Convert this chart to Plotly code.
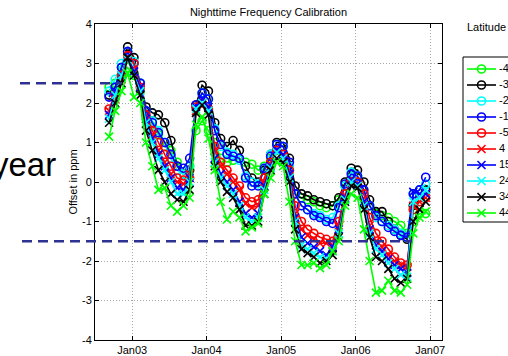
import plotly.graph_objects as go

# ---------------- data ----------------
dates = [
    "2002-09-10", "2002-10-10", "2002-11-10", "2002-12-10",
    "2003-01-10", "2003-02-10", "2003-03-10", "2003-04-10", "2003-05-10", "2003-06-10",
    "2003-07-10", "2003-08-10", "2003-09-10", "2003-10-10", "2003-11-10", "2003-12-10",
    "2004-01-10", "2004-02-10", "2004-03-10", "2004-04-10", "2004-05-10", "2004-06-10",
    "2004-07-10", "2004-08-10", "2004-09-10", "2004-10-10", "2004-11-10", "2004-12-10",
    "2005-01-10", "2005-02-10", "2005-03-10", "2005-04-10", "2005-05-10", "2005-06-10",
    "2005-07-10", "2005-08-10", "2005-09-10", "2005-10-10", "2005-11-10", "2005-12-10",
    "2006-01-10", "2006-02-10", "2006-03-10", "2006-04-10", "2006-05-10", "2006-06-10",
    "2006-07-10", "2006-08-10", "2006-09-10", "2006-10-10", "2006-11-10", "2006-12-10",
]

latitudes = ["-45", "-35", "-25", "-15", "-5", "4", "15", "24", "34", "44"]

lat_m45 = [2.4, 2.5, 2.7, 2.9, 2.7,
           2.3, 1.6, 1.4, 1.2, 0.9, 0.8, 0.5, 0.2, 0.4,
           1.3, 1.55, 1.3,
           1.0, 0.6, 0.5, 0.55, 0.6, 0.5, 0.45, 0.3, 0.4, 0.6,
           0.8, 0.7, 0.3, -0.3,
           -0.4, -0.45, -0.5, -0.6, -0.65, -0.6, -0.45, -0.1,
           0.0, 0.0, -0.3, -0.6,
           -0.8, -0.85, -0.9, -1.0, -1.1, -1.3,
           -1.0, -0.8, -0.8]
lat_m35 = [2.2, 2.4, 2.9, 3.42, 3.15,
           2.5, 1.9, 1.75, 1.7, 1.5, 1.05, 0.4, 0.2, 0.3,
           1.95, 2.45, 2.3,
           1.5, 1.1, 0.9, 1.05, 0.8, 0.4, 0.1, 0.0, 0.3, 0.7,
           1.0, 1.0, 0.6, -0.1,
           -0.3, -0.35, -0.45, -0.5, -0.55, -0.6, -0.4, 0.0,
           0.35, 0.3, 0.0, -0.45,
           -0.75, -0.75, -1.0, -1.2, -1.35, -1.45,
           -0.6, -0.4, -0.2]
lat_m25 = [2.3, 2.6, 3.0, 3.3, 3.05,
           2.5, 1.8, 1.55, 1.3, 1.0, 0.6, 0.3, 0.2, 0.4,
           1.9, 2.25, 2.1,
           1.35, 0.9, 0.75, 0.7, 0.55, 0.15, 0.0, -0.05, 0.35, 0.7,
           0.95, 0.9, 0.4, -0.3,
           -0.6, -0.7, -0.8, -0.85, -0.95, -0.9, -0.6, -0.1,
           0.25, 0.15, -0.3, -0.6,
           -0.9, -1.0, -1.1, -1.2, -1.3, -1.4,
           -0.3, -0.2, -0.05]
lat_m15 = [2.15, 2.4, 2.9, 3.3, 3.0,
           2.5, 1.8, 1.5, 1.25, 1.0, 0.7, 0.4, 0.35, 0.6,
           1.95, 2.25, 2.1,
           1.3, 0.95, 0.7, 0.65, 0.6, 0.1, -0.1, -0.1, 0.35, 0.65,
           0.95, 0.9, 0.5, -0.3,
           -0.6, -0.7, -0.85, -0.9, -1.0, -1.05, -0.65, -0.05,
           0.2, 0.15, -0.2, -0.6,
           -0.85, -1.0, -1.15, -1.25, -1.35, -1.4,
           -0.3, -0.2, 0.12]
lat_m5 = [1.85, 2.2, 2.7, 3.2, 3.0,
          2.4, 1.7, 1.3, 1.0, 0.7, 0.4, 0.1, 0.05, 0.1,
          1.9, 2.0, 1.85,
          0.9, 0.5, 0.3, 0.1, -0.1, -0.4, -0.5, -0.45, 0.1, 0.5,
          0.8, 0.7, 0.3, -0.6,
          -1.0, -1.2, -1.3, -1.4, -1.45, -1.5, -1.0, -0.3,
          0.0, 0.0, -0.3, -0.9,
          -1.3, -1.5, -1.7, -1.9, -2.05, -2.1,
          -0.7, -0.5, -0.4]
lat_p4 = [1.8, 2.1, 2.6, 3.1, 2.8,
          2.4, 1.6, 1.2, 0.8, 0.5, 0.2, 0.0, -0.05, 0.2,
          1.8, 1.95, 1.8,
          0.8, 0.4, 0.2, 0.0, -0.2, -0.55, -0.65, -0.6, 0.0, 0.45,
          0.75, 0.65, 0.2, -0.8,
          -1.2, -1.35, -1.45, -1.55, -1.55, -1.6, -1.1, -0.35,
          -0.05, -0.05, -0.5, -1.1,
          -1.5, -1.65, -1.85, -2.0, -2.1, -2.15,
          -0.6, -0.5, -0.4]
lat_p15 = [1.7, 2.3, 2.7, 3.15, 2.8,
           2.4, 1.6, 1.1, 0.7, 0.4, 0.1, -0.15, -0.2, 0.1,
           1.9, 2.1, 1.9,
           0.6, 0.2, 0.0, -0.2, -0.5, -0.8, -0.9, -0.8, -0.1, 0.4,
           0.8, 0.7, 0.2, -0.9,
           -1.4, -1.55, -1.65, -1.75, -1.85, -1.65, -1.2, -0.4,
           0.05, -0.05, -0.5, -1.2,
           -1.6, -1.75, -1.95, -2.1, -2.2, -2.3,
           -0.25, -0.3, -0.3]
lat_p24 = [1.6, 2.2, 2.7, 3.1, 2.7,
           2.3, 1.5, 1.0, 0.6, 0.3, 0.0, -0.3, -0.3, 0.0,
           1.85, 2.0, 1.8,
           0.5, 0.1, -0.1, -0.3, -0.6, -0.9, -1.0, -0.9, -0.2, 0.35,
           0.75, 0.6, 0.1, -1.0,
           -1.6, -1.7, -1.8, -1.9, -1.95, -1.75, -1.3, -0.45,
           0.0, -0.1, -0.6, -1.3,
           -1.7, -1.85, -2.05, -2.2, -2.35, -2.4,
           -0.5, -0.4, -0.2]
lat_p34 = [1.5, 2.0, 2.5, 3.15, 2.7,
           2.2, 1.3, 0.8, 0.3, 0.0, -0.3, -0.45, -0.5, -0.2,
           1.75, 1.95, 1.7,
           0.4, 0.0, -0.25, -0.4, -0.7, -1.1, -1.1, -1.0, -0.3, 0.3,
           0.6, 0.5, 0.0, -1.2,
           -1.7, -1.8, -1.9, -2.05, -2.0, -1.85, -1.4, -0.5,
           -0.1, -0.15, -0.7, -1.4,
           -1.9, -2.0, -2.2, -2.45, -2.55, -2.45,
           -1.0, -0.7, -0.5]
lat_p44 = [1.15, 1.8, 2.3, 2.75, 2.15,
           2.0, 1.0, 0.4, -0.2, -0.15, -0.6, -0.75, -0.6, -0.4,
           1.45, 1.65, 1.1,
           0.3, -0.5, -0.95, -0.75, -0.9, -1.25, -1.15, -1.05, -0.3, 0.1,
           0.5, 0.4, -0.5, -1.5,
           -2.1, -2.1, -2.05, -2.18, -2.1, -1.75, -1.5, -0.6,
           -0.3, -0.4, -1.2, -2.0,
           -2.8, -2.75, -2.5, -2.75, -2.8, -2.6,
           -1.3, -0.9, -0.75]

x_tick_dates = ["2003-01-01", "2004-01-01", "2005-01-01", "2006-01-01", "2007-01-01"]
x_tick_labels = ["Jan03", "Jan04", "Jan05", "Jan06", "Jan07"]
y_tick_values = [-4, -3, -2, -1, 0, 1, 2, 3, 4]
y_tick_labels = ["-4", "-3", "-2", "-1", "0", "1", "2", "3", "4"]

# reference levels marked by the dashed lines
upper_level = 2.5
lower_level = -1.5

# ---------------- styles ----------------
series = [lat_m45, lat_m35, lat_m25, lat_m15, lat_m5,
          lat_p4, lat_p15, lat_p24, lat_p34, lat_p44]
colors = ["#00ff00", "#000000", "#00ffff", "#0000ff", "#ff0000",
          "#ff0000", "#0000ff", "#00ffff", "#000000", "#00ff00"]
symbols = ["circle-open"] * 5 + ["x-thin-open"] * 5

FONT = "Liberation Sans, Arial, Helvetica, sans-serif"
W, H = 508, 356
ML, MR, MT, MB = 95, 0, 24, 16
PLOT_W = 347                      # main axes width in px
PAPER_W = W - ML - MR


def px_x(p):
    return (p - ML) / PAPER_W


def px_y(p):
    return (H - MB - p) / (H - MT - MB)


fig = go.Figure()

for vals, name, col, sym in zip(series, latitudes, colors, symbols):
    fig.add_trace(go.Scatter(
        x=dates, y=vals, name=name, mode="lines+markers",
        line=dict(color=col, width=1.6),
        marker=dict(symbol=sym, size=8, color=col, line=dict(color=col, width=1.6)),
        showlegend=False,
    ))

# legend drawn as a small sub-plot (entries stacked downwards)
for i, (name, col, sym) in enumerate(zip(latitudes, colors, symbols)):
    fig.add_trace(go.Scatter(x=[4, 33], y=[-i, -i], mode="lines",
                             line=dict(color=col, width=1.6),
                             xaxis="x2", yaxis="y2", showlegend=False, hoverinfo="skip"))
    fig.add_trace(go.Scatter(x=[18.5], y=[-i], mode="markers",
                             marker=dict(symbol=sym, size=8, color=col,
                                         line=dict(color=col, width=1.6)),
                             xaxis="x2", yaxis="y2", showlegend=False, hoverinfo="skip"))
    fig.add_trace(go.Scatter(x=[36], y=[-i], mode="text", text=[name],
                             textposition="middle right",
                             textfont=dict(family=FONT, size=11, color="black"),
                             cliponaxis=False,
                             xaxis="x2", yaxis="y2", showlegend=False, hoverinfo="skip"))

axis_common = dict(
    showline=True, linecolor="black", linewidth=1, mirror="ticks",
    ticks="inside", ticklen=4, tickcolor="black", tickwidth=1,
    showgrid=True, gridcolor="#a8a8a8", griddash="1px,2px", gridwidth=1,
    zeroline=False, tickfont=dict(family=FONT, size=11, color="black"),
)

fig.update_layout(
    width=W, height=H,
    margin=dict(l=ML, r=MR, t=MT, b=MB, autoexpand=False),
    paper_bgcolor="white", plot_bgcolor="white",
    font=dict(family=FONT, size=11, color="black"),
    showlegend=False,
    title=dict(text="Nighttime Frequency Calibration", xref="paper",
               x=px_x(268.5), xanchor="center", yref="container",
               y=1 - 12.5 / H, yanchor="middle",
               font=dict(family=FONT, size=11, color="black")),
    xaxis=dict(domain=[0, PLOT_W / PAPER_W], type="date",
               range=["2002-07-03", "2007-02-28"],
               tickmode="array", tickvals=x_tick_dates, ticktext=x_tick_labels,
               **axis_common),
    yaxis=dict(range=[-4, 4], tickmode="array", tickvals=y_tick_values,
               ticktext=y_tick_labels,
               title=dict(text="Offset in ppm", standoff=2,
                          font=dict(family=FONT, size=11, color="black")),
               **axis_common),
    xaxis2=dict(domain=[px_x(463), 1], range=[0, 45], visible=False,
                anchor="y2", fixedrange=True),
    yaxis2=dict(domain=[px_y(222), px_y(57)], range=[-9.5625, 0.75],
                visible=False, anchor="x2", fixedrange=True),
)

# legend box
fig.add_shape(type="rect", xref="paper", yref="paper",
              x0=px_x(463), x1=1.08, y0=px_y(222), y1=px_y(57),
              line=dict(color="black", width=1), fillcolor="rgba(0,0,0,0)",
              layer="below")

# dashed reference lines extending beyond the axes
for lvl, x0p, x1p in [(upper_level, 20, 122), (lower_level, 22, 412)]:
    fig.add_shape(type="line", xref="paper", yref="y",
                  x0=px_x(x0p), x1=px_x(x1p), y0=lvl, y1=lvl,
                  line=dict(color="#2e3192", width=2.5, dash="10px,6px"),
                  layer="above")

fig.add_annotation(text="Latitude", xref="paper", yref="paper",
                   x=px_x(465), y=px_y(27), xanchor="left", yanchor="middle",
                   showarrow=False, font=dict(family=FONT, size=11, color="black"))
fig.add_annotation(text="year", xref="paper", yref="paper",
                   x=px_x(-10), y=px_y(164), xanchor="left", yanchor="middle",
                   showarrow=False, font=dict(family=FONT, size=33, color="black"))

fig.write_html("out.html")
